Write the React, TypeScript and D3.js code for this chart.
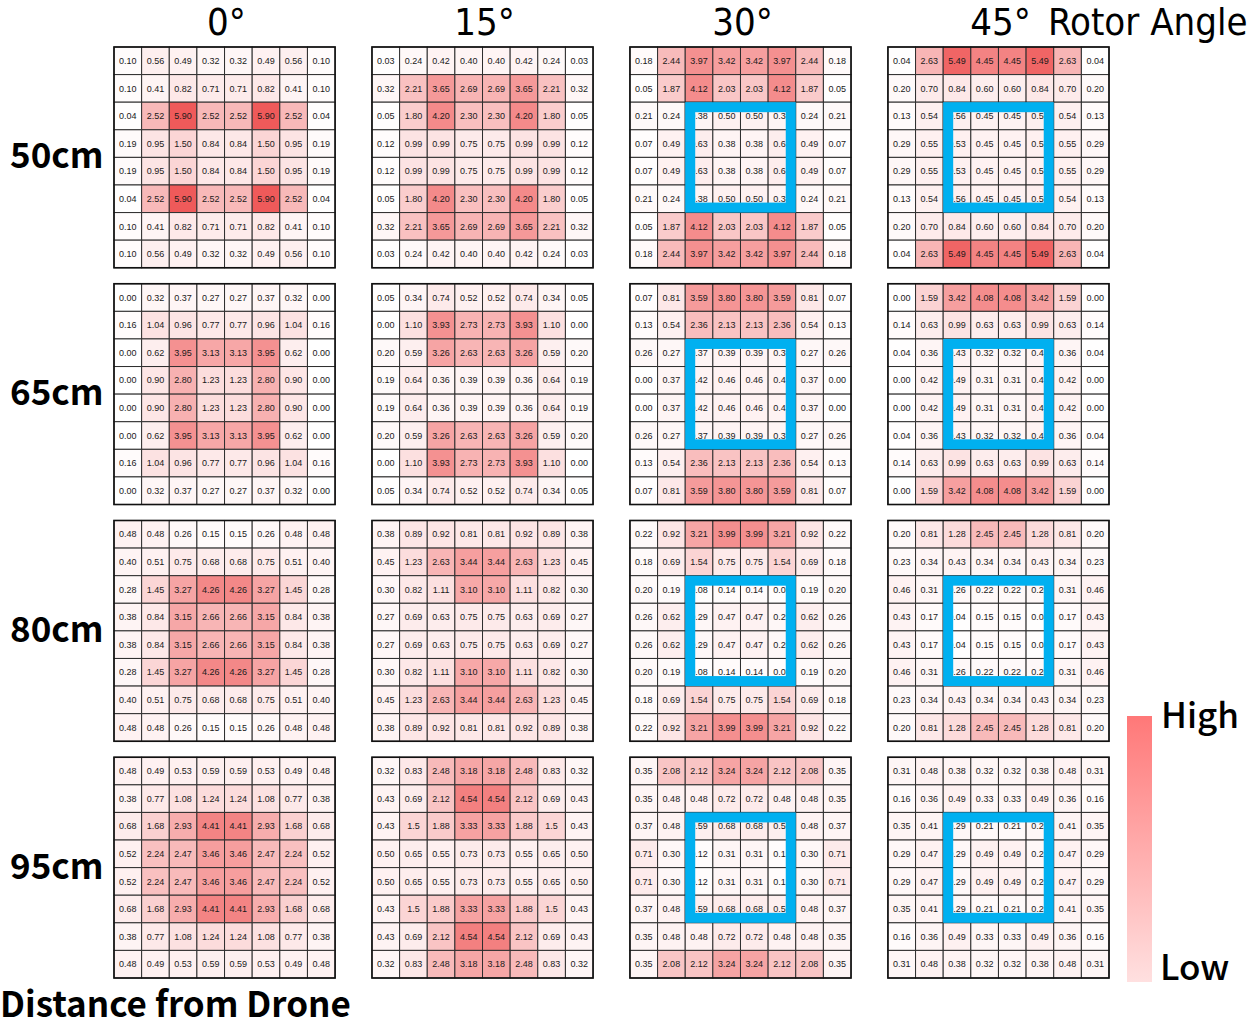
import { useRef, useEffect } from 'react'
import * as d3 from 'd3'

const angles: string[] = ['0°', '15°', '30°', '45°']
const distances: string[] = ['50cm', '65cm', '80cm', '95cm']

// rows of each 8x8 grid, top to bottom
const d50_0 = [
  '0.10 0.56 0.49 0.32 0.32 0.49 0.56 0.10',
  '0.10 0.41 0.82 0.71 0.71 0.82 0.41 0.10',
  '0.04 2.52 5.90 2.52 2.52 5.90 2.52 0.04',
  '0.19 0.95 1.50 0.84 0.84 1.50 0.95 0.19',
  '0.19 0.95 1.50 0.84 0.84 1.50 0.95 0.19',
  '0.04 2.52 5.90 2.52 2.52 5.90 2.52 0.04',
  '0.10 0.41 0.82 0.71 0.71 0.82 0.41 0.10',
  '0.10 0.56 0.49 0.32 0.32 0.49 0.56 0.10',
]
const d50_15 = [
  '0.03 0.24 0.42 0.40 0.40 0.42 0.24 0.03',
  '0.32 2.21 3.65 2.69 2.69 3.65 2.21 0.32',
  '0.05 1.80 4.20 2.30 2.30 4.20 1.80 0.05',
  '0.12 0.99 0.99 0.75 0.75 0.99 0.99 0.12',
  '0.12 0.99 0.99 0.75 0.75 0.99 0.99 0.12',
  '0.05 1.80 4.20 2.30 2.30 4.20 1.80 0.05',
  '0.32 2.21 3.65 2.69 2.69 3.65 2.21 0.32',
  '0.03 0.24 0.42 0.40 0.40 0.42 0.24 0.03',
]
const d50_30 = [
  '0.18 2.44 3.97 3.42 3.42 3.97 2.44 0.18',
  '0.05 1.87 4.12 2.03 2.03 4.12 1.87 0.05',
  '0.21 0.24 0.38 0.50 0.50 0.38 0.24 0.21',
  '0.07 0.49 0.63 0.38 0.38 0.63 0.49 0.07',
  '0.07 0.49 0.63 0.38 0.38 0.63 0.49 0.07',
  '0.21 0.24 0.38 0.50 0.50 0.38 0.24 0.21',
  '0.05 1.87 4.12 2.03 2.03 4.12 1.87 0.05',
  '0.18 2.44 3.97 3.42 3.42 3.97 2.44 0.18',
]
const d50_45 = [
  '0.04 2.63 5.49 4.45 4.45 5.49 2.63 0.04',
  '0.20 0.70 0.84 0.60 0.60 0.84 0.70 0.20',
  '0.13 0.54 0.56 0.45 0.45 0.56 0.54 0.13',
  '0.29 0.55 0.53 0.45 0.45 0.53 0.55 0.29',
  '0.29 0.55 0.53 0.45 0.45 0.53 0.55 0.29',
  '0.13 0.54 0.56 0.45 0.45 0.56 0.54 0.13',
  '0.20 0.70 0.84 0.60 0.60 0.84 0.70 0.20',
  '0.04 2.63 5.49 4.45 4.45 5.49 2.63 0.04',
]
const d65_0 = [
  '0.00 0.32 0.37 0.27 0.27 0.37 0.32 0.00',
  '0.16 1.04 0.96 0.77 0.77 0.96 1.04 0.16',
  '0.00 0.62 3.95 3.13 3.13 3.95 0.62 0.00',
  '0.00 0.90 2.80 1.23 1.23 2.80 0.90 0.00',
  '0.00 0.90 2.80 1.23 1.23 2.80 0.90 0.00',
  '0.00 0.62 3.95 3.13 3.13 3.95 0.62 0.00',
  '0.16 1.04 0.96 0.77 0.77 0.96 1.04 0.16',
  '0.00 0.32 0.37 0.27 0.27 0.37 0.32 0.00',
]
const d65_15 = [
  '0.05 0.34 0.74 0.52 0.52 0.74 0.34 0.05',
  '0.00 1.10 3.93 2.73 2.73 3.93 1.10 0.00',
  '0.20 0.59 3.26 2.63 2.63 3.26 0.59 0.20',
  '0.19 0.64 0.36 0.39 0.39 0.36 0.64 0.19',
  '0.19 0.64 0.36 0.39 0.39 0.36 0.64 0.19',
  '0.20 0.59 3.26 2.63 2.63 3.26 0.59 0.20',
  '0.00 1.10 3.93 2.73 2.73 3.93 1.10 0.00',
  '0.05 0.34 0.74 0.52 0.52 0.74 0.34 0.05',
]
const d65_30 = [
  '0.07 0.81 3.59 3.80 3.80 3.59 0.81 0.07',
  '0.13 0.54 2.36 2.13 2.13 2.36 0.54 0.13',
  '0.26 0.27 0.37 0.39 0.39 0.37 0.27 0.26',
  '0.00 0.37 0.42 0.46 0.46 0.42 0.37 0.00',
  '0.00 0.37 0.42 0.46 0.46 0.42 0.37 0.00',
  '0.26 0.27 0.37 0.39 0.39 0.37 0.27 0.26',
  '0.13 0.54 2.36 2.13 2.13 2.36 0.54 0.13',
  '0.07 0.81 3.59 3.80 3.80 3.59 0.81 0.07',
]
const d65_45 = [
  '0.00 1.59 3.42 4.08 4.08 3.42 1.59 0.00',
  '0.14 0.63 0.99 0.63 0.63 0.99 0.63 0.14',
  '0.04 0.36 0.43 0.32 0.32 0.43 0.36 0.04',
  '0.00 0.42 0.49 0.31 0.31 0.49 0.42 0.00',
  '0.00 0.42 0.49 0.31 0.31 0.49 0.42 0.00',
  '0.04 0.36 0.43 0.32 0.32 0.43 0.36 0.04',
  '0.14 0.63 0.99 0.63 0.63 0.99 0.63 0.14',
  '0.00 1.59 3.42 4.08 4.08 3.42 1.59 0.00',
]
const d80_0 = [
  '0.48 0.48 0.26 0.15 0.15 0.26 0.48 0.48',
  '0.40 0.51 0.75 0.68 0.68 0.75 0.51 0.40',
  '0.28 1.45 3.27 4.26 4.26 3.27 1.45 0.28',
  '0.38 0.84 3.15 2.66 2.66 3.15 0.84 0.38',
  '0.38 0.84 3.15 2.66 2.66 3.15 0.84 0.38',
  '0.28 1.45 3.27 4.26 4.26 3.27 1.45 0.28',
  '0.40 0.51 0.75 0.68 0.68 0.75 0.51 0.40',
  '0.48 0.48 0.26 0.15 0.15 0.26 0.48 0.48',
]
const d80_15 = [
  '0.38 0.89 0.92 0.81 0.81 0.92 0.89 0.38',
  '0.45 1.23 2.63 3.44 3.44 2.63 1.23 0.45',
  '0.30 0.82 1.11 3.10 3.10 1.11 0.82 0.30',
  '0.27 0.69 0.63 0.75 0.75 0.63 0.69 0.27',
  '0.27 0.69 0.63 0.75 0.75 0.63 0.69 0.27',
  '0.30 0.82 1.11 3.10 3.10 1.11 0.82 0.30',
  '0.45 1.23 2.63 3.44 3.44 2.63 1.23 0.45',
  '0.38 0.89 0.92 0.81 0.81 0.92 0.89 0.38',
]
const d80_30 = [
  '0.22 0.92 3.21 3.99 3.99 3.21 0.92 0.22',
  '0.18 0.69 1.54 0.75 0.75 1.54 0.69 0.18',
  '0.20 0.19 0.08 0.14 0.14 0.08 0.19 0.20',
  '0.26 0.62 0.29 0.47 0.47 0.29 0.62 0.26',
  '0.26 0.62 0.29 0.47 0.47 0.29 0.62 0.26',
  '0.20 0.19 0.08 0.14 0.14 0.08 0.19 0.20',
  '0.18 0.69 1.54 0.75 0.75 1.54 0.69 0.18',
  '0.22 0.92 3.21 3.99 3.99 3.21 0.92 0.22',
]
const d80_45 = [
  '0.20 0.81 1.28 2.45 2.45 1.28 0.81 0.20',
  '0.23 0.34 0.43 0.34 0.34 0.43 0.34 0.23',
  '0.46 0.31 0.26 0.22 0.22 0.26 0.31 0.46',
  '0.43 0.17 0.04 0.15 0.15 0.04 0.17 0.43',
  '0.43 0.17 0.04 0.15 0.15 0.04 0.17 0.43',
  '0.46 0.31 0.26 0.22 0.22 0.26 0.31 0.46',
  '0.23 0.34 0.43 0.34 0.34 0.43 0.34 0.23',
  '0.20 0.81 1.28 2.45 2.45 1.28 0.81 0.20',
]
const d95_0 = [
  '0.48 0.49 0.53 0.59 0.59 0.53 0.49 0.48',
  '0.38 0.77 1.08 1.24 1.24 1.08 0.77 0.38',
  '0.68 1.68 2.93 4.41 4.41 2.93 1.68 0.68',
  '0.52 2.24 2.47 3.46 3.46 2.47 2.24 0.52',
  '0.52 2.24 2.47 3.46 3.46 2.47 2.24 0.52',
  '0.68 1.68 2.93 4.41 4.41 2.93 1.68 0.68',
  '0.38 0.77 1.08 1.24 1.24 1.08 0.77 0.38',
  '0.48 0.49 0.53 0.59 0.59 0.53 0.49 0.48',
]
const d95_15 = [
  '0.32 0.83 2.48 3.18 3.18 2.48 0.83 0.32',
  '0.43 0.69 2.12 4.54 4.54 2.12 0.69 0.43',
  '0.43 1.5 1.88 3.33 3.33 1.88 1.5 0.43',
  '0.50 0.65 0.55 0.73 0.73 0.55 0.65 0.50',
  '0.50 0.65 0.55 0.73 0.73 0.55 0.65 0.50',
  '0.43 1.5 1.88 3.33 3.33 1.88 1.5 0.43',
  '0.43 0.69 2.12 4.54 4.54 2.12 0.69 0.43',
  '0.32 0.83 2.48 3.18 3.18 2.48 0.83 0.32',
]
const d95_30 = [
  '0.35 2.08 2.12 3.24 3.24 2.12 2.08 0.35',
  '0.35 0.48 0.48 0.72 0.72 0.48 0.48 0.35',
  '0.37 0.48 0.59 0.68 0.68 0.59 0.48 0.37',
  '0.71 0.30 0.12 0.31 0.31 0.12 0.30 0.71',
  '0.71 0.30 0.12 0.31 0.31 0.12 0.30 0.71',
  '0.37 0.48 0.59 0.68 0.68 0.59 0.48 0.37',
  '0.35 0.48 0.48 0.72 0.72 0.48 0.48 0.35',
  '0.35 2.08 2.12 3.24 3.24 2.12 2.08 0.35',
]
const d95_45 = [
  '0.31 0.48 0.38 0.32 0.32 0.38 0.48 0.31',
  '0.16 0.36 0.49 0.33 0.33 0.49 0.36 0.16',
  '0.35 0.41 0.29 0.21 0.21 0.29 0.41 0.35',
  '0.29 0.47 0.29 0.49 0.49 0.29 0.47 0.29',
  '0.29 0.47 0.29 0.49 0.49 0.29 0.47 0.29',
  '0.35 0.41 0.29 0.21 0.21 0.29 0.41 0.35',
  '0.16 0.36 0.49 0.33 0.33 0.49 0.36 0.16',
  '0.31 0.48 0.38 0.32 0.32 0.38 0.48 0.31',
]

const panels: string[][][] = [
  [d50_0, d50_15, d50_30, d50_45],
  [d65_0, d65_15, d65_30, d65_45],
  [d80_0, d80_15, d80_30, d80_45],
  [d95_0, d95_15, d95_30, d95_45],
]
// panels (by angle) that carry the blue box over the centre 4x4 cells
const boxedAngles: string[] = ['30°', '45°']

export default function App() {
  const svgRef = useRef(null)

  const width: number = 1251
  const height: number = 1028

  useEffect(() => {
    const svg = d3.select(svgRef.current)
    svg.selectAll('*').remove()

    const xPanel = d3.scaleBand<string>().domain(angles).range([114, 1109]).paddingInner(0.143)
    const yPanel = d3.scaleBand<string>().domain(distances).range([47, 978]).paddingInner(0.0675)
    const size = xPanel.bandwidth()
    const idx = d3.range(8).map(String)
    const cx = d3.scaleBand<string>().domain(idx).range([0, size])
    const cy = d3.scaleBand<string>().domain(idx).range([0, yPanel.bandwidth()])

    const color = d3.scaleLinear<string>()
      .domain([0, 5.9])
      .range(['#ffffff', '#ef5a5a'])
      .clamp(true)

    distances.forEach((dist, ri) => {
      angles.forEach((ang, ci) => {
        const rows = panels[ri][ci].map(r => r.split(' '))
        const g = svg.append('g')
          .attr('transform', 'translate(' + xPanel(ang) + ',' + yPanel(dist) + ')')

        const cells = rows.flatMap((r, i) => r.map((v, j) => ({ i, j, v })))

        g.selectAll('rect.cell')
          .data(cells)
          .enter()
          .append('rect')
          .attr('class', 'cell')
          .attr('x', d => cx(String(d.j))!)
          .attr('y', d => cy(String(d.i))!)
          .attr('width', cx.bandwidth())
          .attr('height', cy.bandwidth())
          .attr('fill', d => color(+d.v))
          .attr('stroke', '#2e2e2e')
          .attr('stroke-width', 1)

        g.selectAll('text.val')
          .data(cells)
          .enter()
          .append('text')
          .attr('class', 'val')
          .attr('x', d => cx(String(d.j))! + cx.bandwidth() / 2)
          .attr('y', d => cy(String(d.i))! + cy.bandwidth() / 2)
          .attr('dy', '0.35em')
          .attr('text-anchor', 'middle')
          .attr('font-family', 'Liberation Sans, Arial, sans-serif')
          .attr('font-size', 9)
          .attr('fill', '#1a1a1a')
          .text(d => d.v)

        // outer border
        g.append('rect')
          .attr('width', size)
          .attr('height', yPanel.bandwidth())
          .attr('fill', 'none')
          .attr('stroke', '#111')
          .attr('stroke-width', 1.6)

        if (boxedAngles.includes(ang)) {
          const sw = 10
          g.append('rect')
            .attr('x', cx('2')! + sw / 2)
            .attr('y', cy('2')! + sw / 2)
            .attr('width', cx.bandwidth() * 4 - sw)
            .attr('height', cy.bandwidth() * 4 - sw)
            .attr('fill', 'none')
            .attr('stroke', '#00b0f0')
            .attr('stroke-width', sw)
        }
      })
    })

    // column titles
    svg.selectAll('text.angle')
      .data(angles)
      .enter()
      .append('text')
      .attr('class', 'angle')
      .attr('x', d => xPanel(d)! + size / 2 + 2)
      .attr('y', 35)
      .attr('text-anchor', 'middle')
      .attr('font-family', 'Liberation Sans Narrow, DejaVu Sans Condensed, sans-serif')
      .attr('font-stretch', 'condensed')
      .attr('font-size', 38)
      .attr('fill', '#000')
      .text(d => d)

    svg.append('text')
      .attr('x', 1048)
      .attr('y', 35)
      .attr('font-family', 'Liberation Sans Narrow, DejaVu Sans Condensed, sans-serif')
      .attr('font-stretch', 'condensed')
      .attr('font-size', 38)
      .attr('fill', '#000')
      .text('Rotor Angle')

    // row labels
    svg.selectAll('text.dist')
      .data(distances)
      .enter()
      .append('text')
      .attr('class', 'dist')
      .attr('x', 10)
      .attr('y', d => yPanel(d)! + yPanel.bandwidth() / 2 + 11)
      .attr('font-family', 'Noto Sans CJK JP, Noto Sans, sans-serif')
      .attr('font-weight', 700)
      .attr('font-size', 35)
      .attr('fill', '#000')
      .text(d => d)

    svg.append('text')
      .attr('x', 0)
      .attr('y', 1017)
      .attr('font-family', 'Noto Sans CJK JP, Noto Sans, sans-serif')
      .attr('font-weight', 700)
      .attr('font-size', 35)
      .attr('fill', '#000')
      .text('Distance from Drone')

    // legend
    const defs = svg.append('defs')
    const grad = defs.append('linearGradient')
      .attr('id', 'legendGrad')
      .attr('x1', 0).attr('y1', 1).attr('x2', 0).attr('y2', 0)
    grad.append('stop').attr('offset', '0%').attr('stop-color', '#ffe0e0')
    grad.append('stop').attr('offset', '100%').attr('stop-color', '#ff7878')

    const yLegend = d3.scaleLinear().domain([0, 1]).range([982, 716])
    svg.append('rect')
      .attr('x', 1127)
      .attr('y', yLegend(1))
      .attr('width', 25)
      .attr('height', yLegend(0) - yLegend(1))
      .attr('fill', 'url(#legendGrad)')

    svg.append('text')
      .attr('x', 1161)
      .attr('y', yLegend(1) + 12)
      .attr('font-family', 'Noto Sans CJK JP, Noto Sans, sans-serif')
      .attr('font-weight', 500)
      .attr('font-size', 35)
      .attr('fill', '#000')
      .text('High')

    svg.append('text')
      .attr('x', 1160)
      .attr('y', yLegend(0) - 2)
      .attr('font-family', 'Noto Sans CJK JP, Noto Sans, sans-serif')
      .attr('font-weight', 500)
      .attr('font-size', 35)
      .attr('fill', '#000')
      .text('Low')
  }, [])

  return (
    <svg ref={svgRef} width={width} height={height}
      style={{ position: 'absolute', left: 0, top: 0, background: '#fff' }} />
  )
}
